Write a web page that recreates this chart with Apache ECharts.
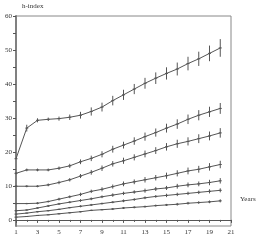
<!DOCTYPE html>
<html><head><meta charset="utf-8">
<script src="https://cdn.jsdelivr.net/npm/echarts@6/dist/echarts.min.js"></script>
<style>html,body{margin:0;padding:0;background:#fff}#c{width:261px;height:240px}</style>
</head><body><div id="c"></div>
<script>
const years = [1,2,3,4,5,6,7,8,9,10,11,12,13,14,15,16,17,18,19,20];
const sA = [18.0,27.0,29.3,29.6,29.8,30.2,30.8,31.9,33.2,35.1,36.8,38.5,40.2,41.7,43.1,44.4,46.0,47.4,49.0,50.6];
const sB = [13.7,14.7,14.7,14.7,15.2,15.9,17.1,18.1,19.3,20.8,22.0,23.2,24.5,25.7,27.0,28.2,29.6,30.8,31.8,32.8];
const sC = [9.9,9.9,9.9,10.3,11.0,11.8,12.9,14.0,15.2,16.5,17.4,18.4,19.4,20.4,21.5,22.4,23.1,23.9,24.7,25.6];
const sD = [4.8,4.8,4.9,5.4,6.1,6.8,7.5,8.4,9.0,9.8,10.6,11.2,11.8,12.4,13.0,13.7,14.4,14.9,15.6,16.3];
const sE = [2.7,2.9,3.5,4.1,4.7,5.2,5.7,6.2,6.8,7.3,7.8,8.2,8.6,9.1,9.4,9.9,10.3,10.6,11.0,11.5];
const sF = [1.7,2.0,2.4,2.7,3.1,3.6,4.0,4.4,4.8,5.2,5.6,6.0,6.5,6.9,7.2,7.5,7.8,8.1,8.4,8.7];
const sG = [0.8,1.0,1.3,1.5,1.8,2.1,2.4,2.8,3.0,3.2,3.5,3.7,3.9,4.2,4.4,4.6,4.9,5.1,5.3,5.6];
const eA = [0,1.0,0.6,0.5,0.6,0.8,1.0,1.2,1.3,1.4,1.5,1.5,1.6,1.7,1.8,1.9,2.0,2.1,2.3,2.6];
const eB = [0.3,0.4,0.4,0.4,0.5,0.6,0.7,0.8,0.9,1.0,1.0,1.1,1.2,1.2,1.3,1.4,1.4,1.5,1.5,1.6];
const eC = [0.3,0.3,0.3,0.4,0.5,0.5,0.6,0.7,0.8,0.8,0.9,0.9,1.0,1.0,1.1,1.2,1.2,1.3,1.3,1.4];
const eD = [0.2,0.2,0.3,0.3,0.4,0.4,0.5,0.5,0.6,0.6,0.7,0.7,0.8,0.8,0.9,0.9,1.0,1.0,1.1,1.1];
const eE = [0.2,0.2,0.2,0.3,0.3,0.3,0.4,0.4,0.4,0.5,0.5,0.5,0.6,0.6,0.6,0.7,0.7,0.7,0.8,0.8];
const eF = [0.1,0.1,0.2,0.2,0.2,0.2,0.3,0.3,0.3,0.3,0.4,0.4,0.4,0.4,0.5,0.5,0.5,0.5,0.6,0.6];
const eG = [0.1,0.1,0.1,0.1,0.2,0.2,0.2,0.2,0.2,0.3,0.3,0.3,0.3,0.3,0.3,0.4,0.4,0.4,0.4,0.45];
const yLabels = [0,10,20,30,40,50,60];
const yTicks = [0,5,10,15,20,25,30,35,40,45,50,55,60];

const allSeries = [[sA,eA],[sB,eB],[sC,eC],[sD,eD],[sE,eE],[sF,eF],[sG,eG]];
const font = 'Liberation Serif';
const lineCol = '#555';
const series = [];
allSeries.forEach(([vals, errs]) => {
  series.push({
    type: 'line', symbol: 'none', silent: true,
    lineStyle: {color: lineCol, width: 1},
    data: years.map((x,i) => [x, vals[i]])
  });
  series.push({
    type: 'custom', silent: true,
    data: years.map((x,i) => [x, vals[i], errs[i]]),
    renderItem: function(params, api) {
      const x = api.value(0), y = api.value(1), e = api.value(2);
      const p = api.coord([x, y]);
      const lo = api.coord([x, y - e]);
      const hi = api.coord([x, y + e]);
      const st = {stroke: lineCol, lineWidth: 1};
      return {type: 'group', children: [
        {type: 'line', shape: {x1: p[0], y1: lo[1], x2: p[0], y2: hi[1]}, style: st},
        {type: 'line', shape: {x1: p[0]-1.5, y1: p[1], x2: p[0]+1.5, y2: p[1]}, style: st}
      ]};
    }
  });
});

const chart = echarts.init(document.getElementById('c'), null, {renderer: 'canvas'});
chart.setOption({
  animation: false,
  backgroundColor: '#fff',
  grid: {left: 16, right: 30, top: 16, bottom: 14, show: true, borderColor: '#888', borderWidth: 1},
  xAxis: {
    type: 'value', min: 1, max: 21, interval: 2,
    axisLine: {show: true, lineStyle: {color: '#555', width: 1}},
    axisTick: {show: true, length: 3, lineStyle: {color: '#555'}},
    minorTick: {show: true, splitNumber: 2, length: 2, lineStyle: {color: '#555'}},
    splitLine: {show: false},
    axisLabel: {fontFamily: font, fontSize: 7, color: '#333', margin: 3}
  },
  yAxis: {
    type: 'value', min: -1.8, max: 60,
    axisLine: {show: true, lineStyle: {color: '#808080', width: 2}},
    axisTick: {show: true, length: 3, customValues: yTicks, lineStyle: {color: '#555'}},
    splitLine: {show: false},
    axisLabel: {fontFamily: font, fontSize: 7, color: '#333', margin: 4, customValues: yLabels}
  },
  graphic: [
    {type: 'text', left: 22, top: 3, style: {text: 'h-index', fontFamily: font, fontSize: 7, fill: '#333'}},
    {type: 'text', left: 240, top: 196, style: {text: 'Years', fontFamily: font, fontSize: 7, fill: '#333'}}
  ],
  series: series
});
</script></body></html>
